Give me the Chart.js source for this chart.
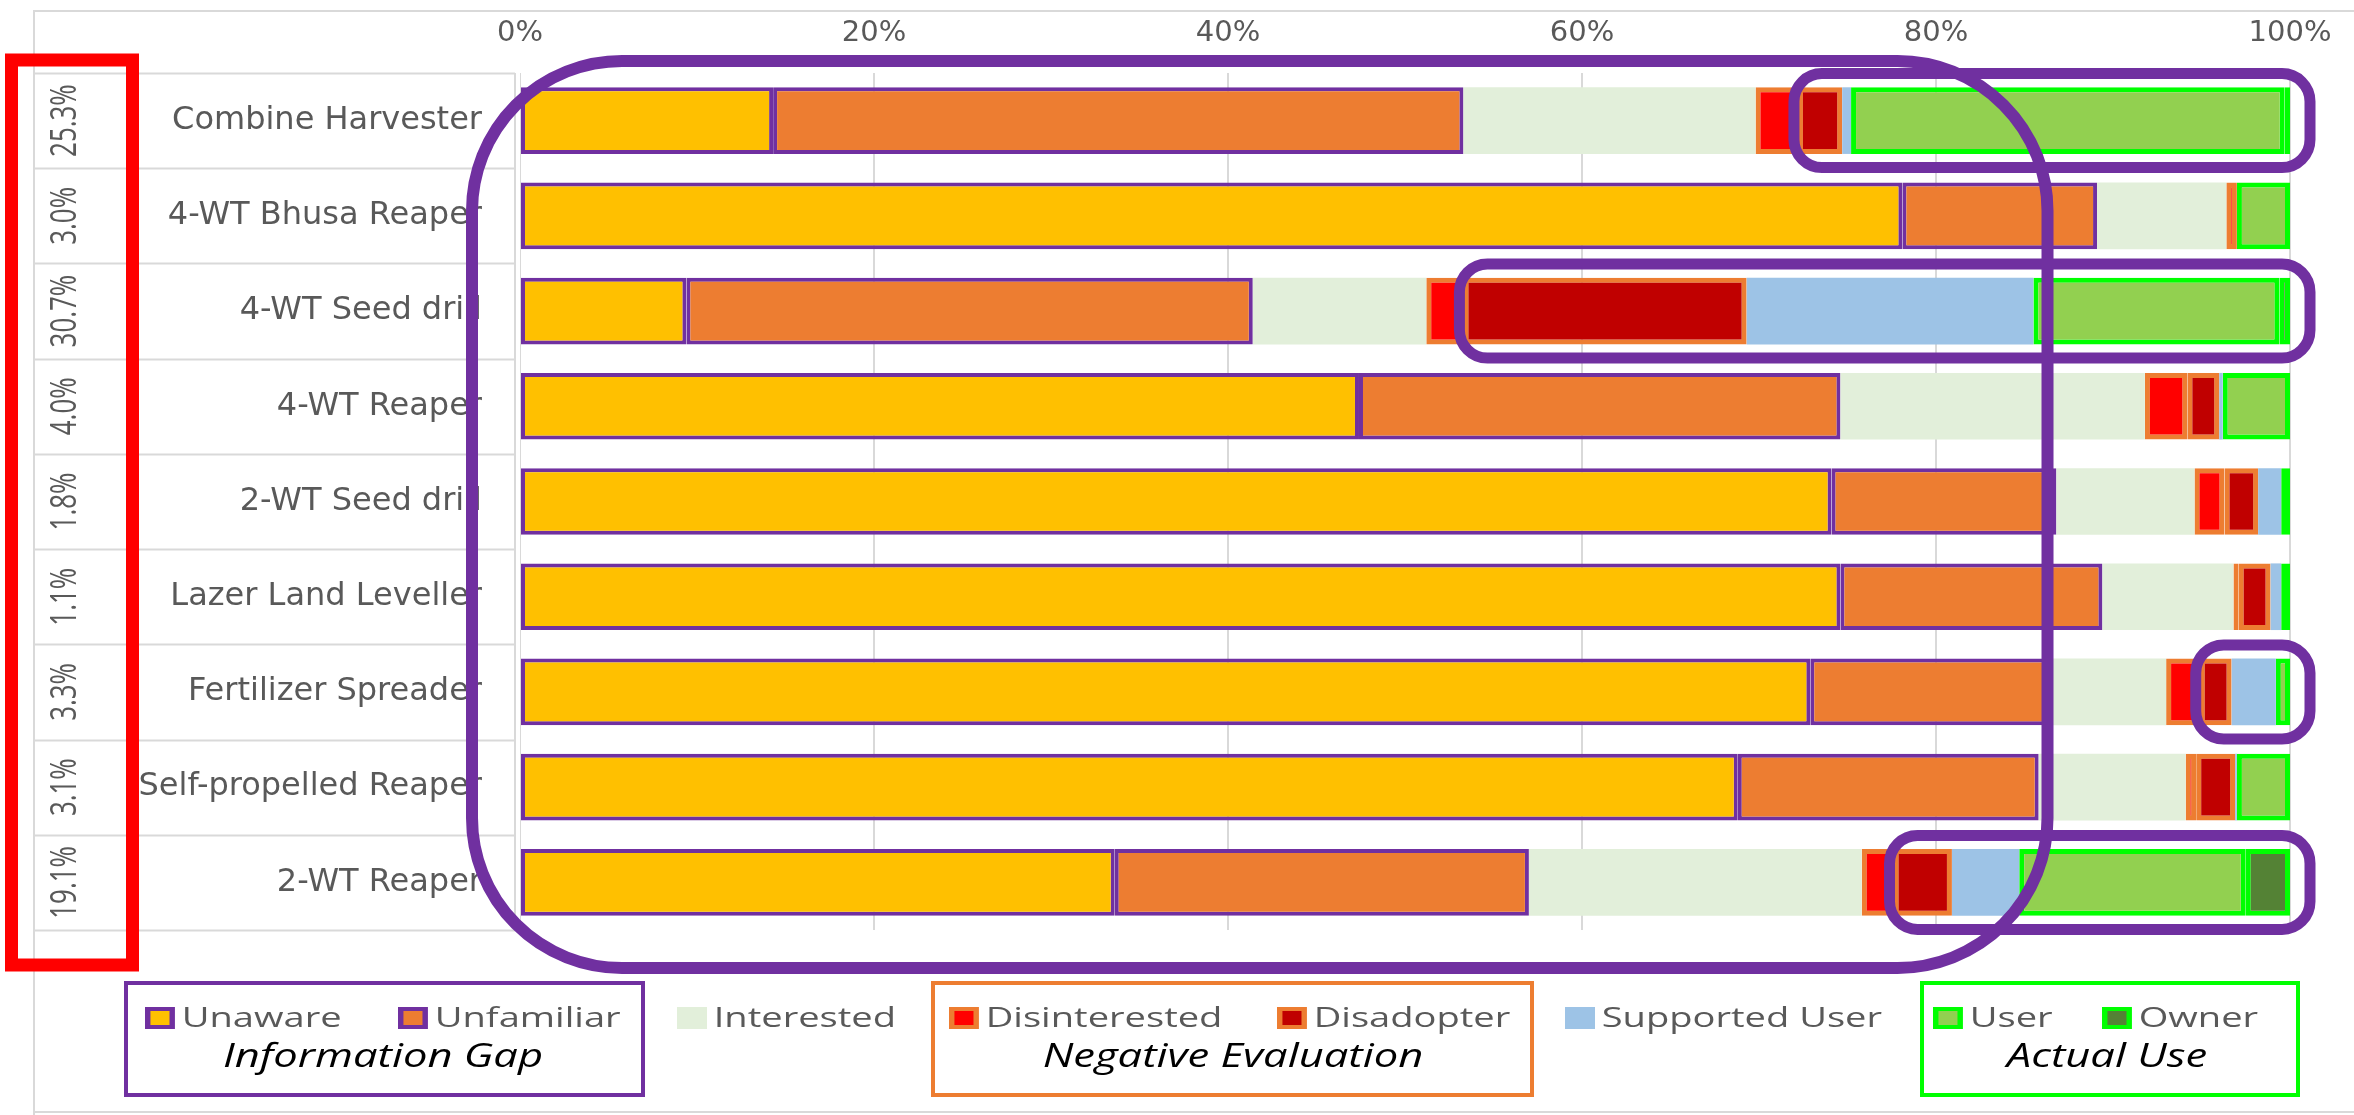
<!DOCTYPE html>
<html>
<head>
<meta charset="utf-8">
<script src="https://cdn.jsdelivr.net/npm/chart.js@4.4.1/dist/chart.umd.min.js"></script>
<style>
  html, body { margin: 0; padding: 0; background: #fff; }
  #adoption { display: block; }
</style>
</head>
<body>
<canvas id="adoption" width="2354" height="1115"></canvas>
<script>
// machines, top to bottom
var machines = ['Combine Harvester', '4-WT Bhusa Reaper', '4-WT Seed drill', '4-WT Reaper',
  '2-WT Seed drill', 'Lazer Land Leveller', 'Fertilizer Spreader', 'Self-propelled Reaper', '2-WT Reaper'];
// share shown in the left column (supported user + user + owner)
var actualShare = ['25.3%', '3.0%', '30.7%', '4.0%', '1.8%', '1.1%', '3.3%', '3.1%', '19.1%'];

// percent of respondents per stage
var unaware       = [14.3, 78.1,  9.4, 47.4, 74.1, 74.6, 72.9, 68.8, 33.6];
var unfamiliar    = [39.0, 11.0, 32.0, 27.2, 12.7, 14.8, 13.6, 17.0, 23.4];
var interested    = [16.5,  7.3,  9.8, 17.2,  7.8,  7.4,  6.5,  8.3, 18.8];
var disinterested = [ 2.4,  0.6,  2.1,  2.4,  1.7,  0.3,  1.9,  0.6,  1.8];
var disadopter    = [ 2.5,  0.0, 16.0,  1.8,  1.9,  1.8,  1.8,  2.2,  3.3];
var supportedUser = [ 0.5,  0.0, 16.2,  0.2,  1.3,  0.6,  2.5,  0.1,  3.8];
var user          = [24.5,  3.0, 13.9,  3.8,  0.5,  0.5,  0.8,  3.0, 12.8];
var owner         = [ 0.3,  0.0,  0.6,  0.0,  0.0,  0.0,  0.0,  0.0,  2.5];

var xTicks = [0, 20, 40, 60, 80, 100];
var highlightRows = [0, 2, 6, 8];   // rows with a purple box around the right end

var PURPLE = '#7030A0', ORANGE = '#ED7D31', GREEN = '#00FF00', GREY = '#595959';

function seg(label, data, bg, border, bw) {
  return { label: label, data: data, backgroundColor: bg, borderColor: border || bg,
           borderWidth: bw || 0, borderSkipped: false, barPercentage: 0.7, categoryPercentage: 1 };
}

function roundRect(ctx, x, y, w, h, r) {
  ctx.beginPath();
  ctx.moveTo(x + r, y);
  ctx.arcTo(x + w, y, x + w, y + h, r);
  ctx.arcTo(x + w, y + h, x, y + h, r);
  ctx.arcTo(x, y + h, x, y, r);
  ctx.arcTo(x, y, x + w, y, r);
  ctx.closePath();
}

var overlay = {
  id: 'overlay',
  afterDraw: function (chart) {
    var ctx = chart.ctx, xs = chart.scales.x, ys = chart.scales.y, area = chart.chartArea;
    var step = ys.getPixelForValue(1) - ys.getPixelForValue(0);
    ctx.save();

    // label column is clipped at its edges
    ctx.fillStyle = '#fff';
    ctx.fillRect(0, area.top, 140, area.bottom - area.top);
    ctx.fillRect(xs.getPixelForValue(0) - 4, area.top, 4, area.bottom - area.top);

    // outer frame
    ctx.strokeStyle = '#D9D9D9';
    ctx.lineWidth = 2;
    ctx.beginPath();
    ctx.moveTo(34, 1115); ctx.lineTo(34, 11); ctx.lineTo(2354, 11);
    ctx.moveTo(34, 1112); ctx.lineTo(2354, 1112);
    ctx.stroke();

    // table lines of the label column
    ctx.beginPath();
    for (var i = 0; i <= machines.length; i++) {
      var yy = Math.round(ys.getPixelForValue(i) - step / 2) + 0.5;
      ctx.moveTo(34, yy); ctx.lineTo(515, yy);
    }
    ctx.moveTo(515, area.top); ctx.lineTo(515, area.bottom);
    ctx.moveTo(127, area.top); ctx.lineTo(127, area.bottom);
    ctx.stroke();

    // rotated shares
    ctx.fillStyle = GREY;
    ctx.font = '37px "Open Sans"';
    ctx.textAlign = 'center';
    ctx.textBaseline = 'middle';
    actualShare.forEach(function (t, i) {
      ctx.save();
      ctx.translate(65, ys.getPixelForValue(i));
      ctx.rotate(-Math.PI / 2);
      ctx.scale(0.7, 1);
      ctx.fillText(t, 0, 0);
      ctx.restore();
    });

    // red box round the share column
    ctx.strokeStyle = '#FF0000';
    ctx.lineWidth = 13;
    ctx.strokeRect(11.5, 60, 121, 905);

    // big purple box: information gap
    ctx.strokeStyle = PURPLE;
    ctx.lineWidth = 12;
    var bx0 = xs.getPixelForValue(0) - 48, bx1 = xs.getPixelForValue(86.3);
    roundRect(ctx, bx0, area.top - 12, bx1 - bx0, area.bottom + 38 - (area.top - 12), 150);
    ctx.stroke();

    // small purple boxes from the disadopter segment to the end
    ctx.lineWidth = 11;
    highlightRows.forEach(function (r) {
      var before = unaware[r] + unfamiliar[r] + interested[r] + disinterested[r];
      var x0 = xs.getPixelForValue(before) - 4, x1 = xs.getPixelForValue(100) + 20;
      var yc = ys.getPixelForValue(r);
      roundRect(ctx, x0, yc - 47, x1 - x0, 94, 28);
      ctx.stroke();
    });

    // legend
    var sx = 1.36;
    var legendX = [145, 398, 677, 949, 1277, 1565, 1933, 2102];
    var ly = 1018;
    ctx.font = '28px "Open Sans"';
    ctx.textAlign = 'left';
    ctx.textBaseline = 'middle';
    chart.data.datasets.forEach(function (ds, i) {
      ctx.save();
      ctx.translate(legendX[i], ly);
      ctx.scale(sx, 1);
      ctx.fillStyle = ds.borderWidth ? ds.borderColor : ds.backgroundColor;
      ctx.fillRect(0, -11, 22, 22);
      ctx.fillStyle = ds.backgroundColor;
      if (ds.borderWidth) ctx.fillRect(4, -7, 14, 14);
      else ctx.fillRect(0, -11, 22, 22);
      ctx.fillStyle = GREY;
      ctx.fillText(ds.label, 27, 1);
      ctx.restore();
    });

    // legend groups
    var groups = [
      { text: 'Information Gap', color: PURPLE, x0: 126, x1: 643, cx: 383 },
      { text: 'Negative Evaluation', color: ORANGE, x0: 933, x1: 1532, cx: 1233 },
      { text: 'Actual Use', color: GREEN, x0: 1922, x1: 2298, cx: 2107 }
    ];
    ctx.lineWidth = 4;
    ctx.font = 'italic 32px "Open Sans"';
    ctx.textAlign = 'center';
    groups.forEach(function (g) {
      ctx.strokeStyle = g.color;
      ctx.strokeRect(g.x0, 983, g.x1 - g.x0, 112);
      ctx.save();
      ctx.translate(g.cx, 1058);
      ctx.scale(sx, 1);
      ctx.fillStyle = '#000';
      ctx.fillText(g.text, 0, 0);
      ctx.restore();
    });

    ctx.restore();
  }
};

var ctx = document.getElementById('adoption').getContext('2d');
var adoptionChart = new Chart(ctx, {
  type: 'bar',
  data: {
    labels: machines,
    datasets: [
      seg('Unaware', unaware, '#FFC000', PURPLE, 4),
      seg('Unfamiliar', unfamiliar, ORANGE, PURPLE, 4),
      seg('Interested', interested, '#E2EFDA'),
      seg('Disinterested', disinterested, '#FF0000', ORANGE, 5),
      seg('Disadopter', disadopter, '#C00000', ORANGE, 5),
      seg('Supported User', supportedUser, '#9DC3E6'),
      seg('User', user, '#92D050', GREEN, 5),
      seg('Owner', owner, '#548235', GREEN, 5)
    ]
  },
  options: {
    indexAxis: 'y',
    responsive: false,
    animation: false,
    devicePixelRatio: 1,
    layout: { padding: { left: 0, right: 64, top: 0, bottom: 185 } },
    plugins: { legend: { display: false }, tooltip: { enabled: false } },
    scales: {
      x: {
        position: 'top', stacked: true, min: 0, max: 100,
        afterBuildTicks: function (s) { s.ticks = xTicks.map(function (v) { return { value: v }; }); },
        afterFit: function (s) { s.height = 73; },
        ticks: { callback: function (v) { return v + '%'; }, color: GREY, padding: 22,
                 font: { family: 'DejaVu Sans', size: 29 } },
        grid: { color: '#D9D9D9', lineWidth: 2, drawTicks: false },
        border: { display: false }
      },
      y: {
        stacked: true,
        afterFit: function (s) { s.width = 520; },
        ticks: { color: GREY, padding: 30, font: { family: 'DejaVu Sans', size: 32 } },
        grid: { display: false },
        border: { display: false }
      }
    }
  },
  plugins: [overlay]
});
</script>
</body>
</html>
